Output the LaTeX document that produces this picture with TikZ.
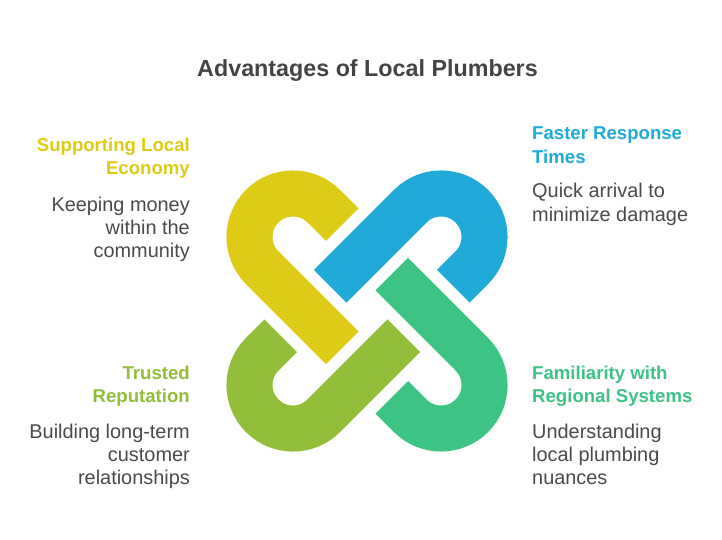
\documentclass[tikz,border=0pt]{standalone}
\usepackage{fontspec}
\setmainfont{Liberation Sans}
\definecolor{cyel}{HTML}{DECB15}
\definecolor{cblu}{HTML}{1FAAD8}
\definecolor{cgrn}{HTML}{3DC484}
\definecolor{coli}{HTML}{92BE3A}
\definecolor{ctxt}{HTML}{4A4A4A}
\definecolor{ctit}{HTML}{444444}
\begin{document}
\begin{tikzpicture}[x=1pt,y=1pt,
  link/.style={line width=46pt, line cap=butt},
  titletext/.style={font=\fontsize{23.3}{28}\selectfont\bfseries, text=ctit, inner sep=0pt},
  head/.style={font=\fontsize{18.6}{22}\selectfont\bfseries, inner sep=0pt},
  desc/.style={font=\fontsize{19.9}{23}\selectfont, text=ctxt, inner sep=0pt},
  lefttext/.style={anchor=base east},
  righttext/.style={anchor=base west}]
\useasboundingbox (0,0) rectangle (722,540);
\fill[white] (0,0) rectangle (722,540);

% interlocking links
\foreach \ang/\col in {-45/cyel, -135/cblu, 135/cgrn, 45/coli} {
  \begin{scope}[shift={(367,229)}, rotate=\ang]
    \draw[link, draw=\col] (-78.5,43.5) -- (-104.7,43.5)
      arc[start angle=90, end angle=270, radius=43.5] -- (8.5,-43.5);
  \end{scope}
}

% title
\node[titletext, anchor=base] (title) at (367.5,463.3) {Advantages of Local Plumbers};

% top-left
\node[head, lefttext, text=cyel] (h1a) at (190,388.3) {Supporting Local};
\node[head, lefttext, text=cyel] (h1b) at (190,365) {Economy};
\node[desc, lefttext] (d1a) at (190,328.3) {Keeping money};
\node[desc, lefttext] (d1b) at (190,305) {within the};
\node[desc, lefttext] (d1c) at (190,282) {community};

% top-right
\node[head, righttext, text=cblu] (h2a) at (532,400) {Faster Response};
\node[head, righttext, text=cblu] (h2b) at (532,376.7) {Times};
\node[desc, righttext] (d2a) at (532,342) {Quick arrival to};
\node[desc, righttext] (d2b) at (532,318.3) {minimize damage};

% bottom-left
\node[head, lefttext, text=coli] (h3a) at (190,160) {Trusted};
\node[head, lefttext, text=coli] (h3b) at (190,137) {Reputation};
\node[desc, lefttext] (d3a) at (190,101.7) {Building long-term};
\node[desc, lefttext] (d3b) at (190,78.3) {customer};
\node[desc, lefttext] (d3c) at (190,55) {relationships};

% bottom-right
\node[head, righttext, text=cgrn] (h4a) at (532,160) {Familiarity with};
\node[head, righttext, text=cgrn] (h4b) at (532,137) {Regional Systems};
\node[desc, righttext] (d4a) at (532,101.7) {Understanding};
\node[desc, righttext] (d4b) at (532,78.3) {local plumbing};
\node[desc, righttext] (d4c) at (532,55) {nuances};
\end{tikzpicture}
\end{document}
